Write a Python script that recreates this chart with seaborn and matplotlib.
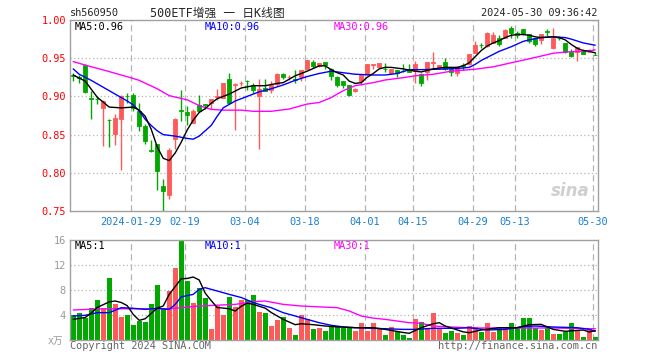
import numpy as np
import pandas as pd
import matplotlib
matplotlib.use("Agg")
import matplotlib.pyplot as plt
import seaborn as sns

# ---------------- data ----------------
opens = [0.928, 0.925, 0.941, 0.898, 0.897, 0.885, 0.8695, 0.8505, 0.871, 0.901,
         0.9015, 0.881, 0.8615, 0.8295, 0.8375, 0.783, 0.771, 0.844, 0.882, 0.8797,
         0.8658, 0.8885, 0.8895, 0.891, 0.8995, 0.8985, 0.9225, 0.9155, 0.917, 0.9205,
         0.9147, 0.900, 0.911, 0.909, 0.916, 0.929, 0.925, 0.9225, 0.925, 0.9365,
         0.945, 0.940, 0.9455, 0.9355, 0.9255, 0.920, 0.9147, 0.9065, 0.9205, 0.9295,
         0.9415, 0.9385, 0.9365, 0.931, 0.934, 0.9335, 0.935, 0.9335, 0.929, 0.9325,
         0.944, 0.9385, 0.9455, 0.9355, 0.931, 0.9405, 0.942, 0.957, 0.9675, 0.966,
         0.9705, 0.976, 0.977, 0.990, 0.9835, 0.988, 0.9815, 0.977, 0.974, 0.985,
         0.964, 0.977, 0.9695, 0.9575, 0.958, 0.9595, 0.958, 0.9545]
highs = [0.931, 0.928, 0.942, 0.907, 0.900, 0.895, 0.870, 0.877, 0.9015, 0.905,
         0.905, 0.891, 0.8635, 0.843, 0.8375, 0.7915, 0.832, 0.872, 0.908, 0.8876,
         0.883, 0.9016, 0.890, 0.897, 0.910, 0.917, 0.930, 0.917, 0.920, 0.9215,
         0.918, 0.9225, 0.923, 0.920, 0.931, 0.931, 0.9275, 0.935, 0.934, 0.947,
         0.947, 0.9435, 0.9455, 0.9375, 0.9265, 0.920, 0.9147, 0.911, 0.928, 0.942,
         0.942, 0.944, 0.944, 0.9365, 0.934, 0.943, 0.943, 0.946, 0.931, 0.9445,
         0.9575, 0.941, 0.950, 0.9385, 0.9397, 0.944, 0.955, 0.972, 0.9705, 0.9845,
         0.9845, 0.981, 0.988, 0.9915, 0.9855, 0.988, 0.9815, 0.977, 0.9815, 0.988,
         0.9895, 0.979, 0.9695, 0.9615, 0.965, 0.962, 0.9625, 0.958]
lows = [0.920, 0.918, 0.904, 0.871, 0.890, 0.835, 0.834, 0.837, 0.804, 0.892,
        0.881, 0.855, 0.838, 0.827, 0.7775, 0.749, 0.766, 0.831, 0.868, 0.862,
        0.865, 0.8795, 0.883, 0.883, 0.895, 0.8975, 0.8895, 0.856, 0.914, 0.909,
        0.905, 0.8315, 0.907, 0.905, 0.914, 0.923, 0.921, 0.918, 0.920, 0.9345,
        0.9375, 0.938, 0.9355, 0.922, 0.9125, 0.911, 0.900, 0.906, 0.915, 0.928,
        0.936, 0.937, 0.932, 0.929, 0.925, 0.932, 0.932, 0.918, 0.914, 0.922,
        0.9365, 0.937, 0.9345, 0.9265, 0.927, 0.934, 0.9405, 0.9565, 0.9635, 0.965,
        0.9695, 0.9665, 0.976, 0.9765, 0.9765, 0.9805, 0.970, 0.966, 0.9685, 0.979,
        0.9625, 0.974, 0.957, 0.9515, 0.9465, 0.955, 0.9575, 0.954]
closes = [0.927, 0.924, 0.906, 0.897, 0.896, 0.894, 0.869, 0.8715, 0.9005, 0.900,
          0.8845, 0.8615, 0.842, 0.829, 0.8025, 0.776, 0.830, 0.871, 0.881, 0.8754,
          0.881, 0.881, 0.889, 0.897, 0.900, 0.917, 0.892, 0.9165, 0.918, 0.920,
          0.909, 0.910, 0.907, 0.9147, 0.929, 0.926, 0.9255, 0.922, 0.934, 0.947,
          0.940, 0.9435, 0.941, 0.927, 0.915, 0.9147, 0.9015, 0.910, 0.928, 0.942,
          0.942, 0.944, 0.936, 0.9365, 0.930, 0.933, 0.9315, 0.942, 0.918, 0.9445,
          0.9445, 0.941, 0.9355, 0.932, 0.9387, 0.940, 0.955, 0.967, 0.967, 0.9825,
          0.981, 0.968, 0.9865, 0.9825, 0.980, 0.9815, 0.9725, 0.9685, 0.9815, 0.9845,
          0.977, 0.9765, 0.9575, 0.953, 0.965, 0.956, 0.9585, 0.954]
volumes = [3.95, 4.37, 3.57, 5.07, 6.35, 5.0, 10.0, 5.7, 3.68, 3.95,
           2.35, 3.0, 2.83, 5.7, 8.75, 5.17, 7.8, 11.47, 15.8, 9.39,
           5.87, 8.27, 6.67, 1.7, 5.44, 3.95, 6.83, 5.33, 6.35, 6.35,
           7.15, 4.43, 4.27, 2.19, 3.15, 3.68, 1.92, 0.75, 4.0, 3.41,
           1.7, 1.87, 1.39, 2.13, 2.13, 1.92, 1.92, 1.39, 2.67, 1.39,
           2.67, 1.92, 0.75, 2.03, 1.23, 0.75, 0.27, 3.31, 2.83, 1.81,
           4.27, 1.97, 1.07, 1.39, 1.07, 0.75, 2.19, 2.03, 1.23, 2.67,
           1.23, 2.03, 2.03, 2.67, 1.87, 3.47, 3.47, 1.87, 1.55, 2.24,
           0.91, 0.91, 1.23, 2.67, 1.39, 0.43, 1.87, 0.43]

# price moving averages (sampled along the lines)
ma5_idx = [0, 2, 4, 6, 8, 10, 11, 12, 13, 14, 15, 16, 17, 18, 19, 20, 21, 22, 23, 24,
           26, 28, 30, 32, 34, 35, 37, 39, 41, 42, 43, 44, 45, 46, 47, 48, 49, 50, 51, 52,
           53, 55, 57, 58, 60, 62, 64, 65, 66, 67, 68, 69, 70, 71, 72, 73, 74, 75, 76, 77,
           78, 80, 81, 82, 83, 84, 85, 86, 87]
ma5_val = [0.928, 0.920, 0.899, 0.886, 0.885, 0.886, 0.882, 0.874, 0.857, 0.834, 0.819,
           0.816, 0.826, 0.840, 0.856, 0.869, 0.879, 0.884, 0.891, 0.897, 0.903, 0.911,
           0.914, 0.914, 0.917, 0.918, 0.927, 0.933, 0.940, 0.940, 0.935, 0.931, 0.928,
           0.920, 0.917, 0.918, 0.925, 0.930, 0.936, 0.938, 0.938, 0.936, 0.933, 0.932,
           0.936, 0.938, 0.938, 0.940, 0.944, 0.952, 0.960, 0.966, 0.970, 0.973, 0.977,
           0.980, 0.981, 0.981, 0.980, 0.978, 0.977, 0.978, 0.977, 0.974, 0.968, 0.963,
           0.960, 0.959, 0.957]
ma10_idx = [0, 1, 3, 5, 7, 9, 10, 11, 12, 13, 14, 15, 17, 19, 20, 21, 22, 23, 24, 25,
            27, 29, 31, 33, 35, 37, 39, 41, 43, 45, 47, 50, 52, 54, 56, 58, 61, 64, 66, 67,
            68, 69, 70, 71, 73, 75, 76, 78, 80, 82, 83, 85, 87]
ma10_val = [0.936, 0.929, 0.921, 0.912, 0.903, 0.894, 0.889, 0.881, 0.870, 0.862, 0.855,
            0.850, 0.848, 0.845, 0.844, 0.848, 0.855, 0.862, 0.874, 0.885, 0.894, 0.900,
            0.906, 0.910, 0.915, 0.921, 0.926, 0.930, 0.933, 0.931, 0.929, 0.928, 0.928,
            0.930, 0.935, 0.935, 0.9356, 0.9365, 0.938, 0.942, 0.947, 0.951, 0.955, 0.959,
            0.965, 0.972, 0.974, 0.977, 0.978, 0.977, 0.975, 0.970, 0.967]
ma30_idx = [0, 2, 6, 10, 11, 14, 16, 19, 21, 23, 25, 28, 30, 33, 36, 39, 41, 43, 45, 47,
            50, 52, 55, 57, 60, 63, 67, 70, 73, 77, 80, 82, 86, 87]
ma30_val = [0.9456, 0.941, 0.9325, 0.9235, 0.921, 0.910, 0.901, 0.8955, 0.888, 0.883,
            0.882, 0.882, 0.8805, 0.8805, 0.8835, 0.890, 0.892, 0.8985, 0.9075, 0.914,
            0.918, 0.9215, 0.9245, 0.927, 0.929, 0.933, 0.9356, 0.9387, 0.944, 0.951,
            0.9565, 0.958, 0.9596, 0.961]

# volume moving averages (sampled along the lines)
vma5_idx = [0, 2, 3, 4, 6, 7, 8, 9, 10, 11, 12, 14, 15, 16, 18, 19, 20, 21, 22, 23,
            24, 26, 27, 28, 29, 30, 32, 33, 35, 37, 38, 40, 42, 44, 47, 50, 52, 55, 56,
            58, 60, 61, 62, 65, 66, 68, 71, 74, 76, 78, 80, 82, 85, 86, 87]
vma5_val = [3.3, 3.6, 4.3, 5.2, 6.1, 6.24, 6.0, 5.5, 4.1, 3.15, 3.4, 5.1, 5.44, 7.3,
            9.8, 9.85, 10.08, 9.6, 7.5, 6.3, 5.2, 5.0, 4.64, 5.4, 5.9, 5.7, 5.1, 4.4,
            3.3, 2.45, 2.6, 2.45, 2.24, 2.1, 1.97, 1.97, 1.7, 1.2, 1.07, 1.97, 2.6,
            2.77, 2.24, 1.3, 1.17, 1.6, 1.97, 1.97, 2.45, 2.5, 1.7, 1.39, 1.6, 1.28, 1.5]
vma10_idx = [0, 2, 4, 6, 8, 10, 12, 14, 16, 17, 18, 20, 21, 22, 24, 26, 28, 30, 31, 33,
             35, 37, 39, 41, 43, 45, 47, 50, 55, 57, 60, 64, 66, 69, 72, 75, 77, 80, 84,
             86, 87]
vma10_val = [3.84, 3.95, 4.37, 4.37, 5.17, 5.07, 4.9, 5.07, 4.9, 5.7, 6.9, 7.3, 8.1,
             8.37, 7.84, 7.3, 6.8, 6.0, 5.7, 5.17, 4.37, 3.84, 3.3, 2.77, 2.35, 2.1,
             1.97, 1.87, 1.7, 1.7, 1.87, 1.87, 1.97, 1.6, 1.7, 2.13, 2.24, 2.08, 1.97,
             1.7, 1.39]
vma30_idx = [0, 5, 10, 16, 18, 21, 27, 30, 32, 35, 38, 41, 44, 46, 48, 50, 52, 56, 58,
             60, 63, 67, 75, 80, 86, 87]
vma30_val = [4.8, 5.0, 5.0, 5.0, 5.17, 5.44, 5.7, 6.13, 6.24, 5.7, 5.44, 5.3, 5.17,
             4.64, 3.84, 3.5, 3.3, 2.77, 2.67, 2.24, 2.08, 1.92, 1.92, 1.92, 1.81, 1.81]

tick_idx = [10, 19, 29, 39, 49, 57, 67, 74, 87]
tick_labels = ["2024-01-29", "02-19", "03-04", "03-18", "04-01", "04-15",
               "04-29", "05-13", "05-30"]
price_ticks = [0.75, 0.80, 0.85, 0.90, 0.95, 1.00]
vol_ticks = [4, 8, 12, 16]

# ---------------- styling ----------------
sns.set_style("white")
plt.rcParams["font.family"] = ["DejaVu Sans Mono", "Noto Sans CJK SC"]

RED = "#ff5a5a"
GREEN = "#00a800"
FRAME = "#a0a0a0"
GRID = "#b4b4b4"
W, H = 660, 360

df = pd.DataFrame({"i": np.arange(len(closes)), "open": opens, "high": highs,
                   "low": lows, "close": closes, "vol": volumes})
df["color"] = np.where(df["close"] > df["open"], RED, GREEN)

fig = plt.figure(figsize=(W / 100, H / 100), dpi=100)
fig.patch.set_facecolor("white")


def fx(x):
    return x / W


def fy(y):
    return 1 - y / H


ax = fig.add_axes([fx(70), fy(211), (597.5 - 70) / W, 191 / H])
axv = fig.add_axes([fx(70), fy(340), (597.5 - 70) / W, 100 / H])

xl = (-0.533, 87.38)
grid_x = [t - 0.45 for t in tick_idx]

for a in (ax, axv):
    a.set_xlim(*xl)
    for s in a.spines.values():
        s.set_color(FRAME)
        s.set_linewidth(1.0)
    a.tick_params(length=0)
    for gx in grid_x:
        a.axvline(gx, color=GRID, lw=0.9, ls=(0, (5, 3)), zorder=0)

# ---- main candlestick panel ----
ax.set_ylim(0.75, 1.00)
for p in price_ticks[1:-1]:
    ax.axhline(p, color=GRID, lw=0.9, ls=(0, (1, 2)), zorder=0)

ax.vlines(df["i"], df["low"], df["high"], colors=df["color"], lw=1.0, zorder=2)
body_h = (df["close"] - df["open"]).abs()
body_b = df[["open", "close"]].min(axis=1)
ax.bar(df["i"], body_h, bottom=body_b, width=0.72, color=df["color"],
       edgecolor=df["color"], lw=0.6, zorder=2)

sns.lineplot(x=ma30_idx, y=ma30_val, ax=ax, color="#ff00ff", lw=1.0, zorder=3)
sns.lineplot(x=ma10_idx, y=ma10_val, ax=ax, color="#0000ff", lw=1.0, zorder=3)
sns.lineplot(x=ma5_idx, y=ma5_val, ax=ax, color="black", lw=1.0, zorder=4)

ax.set_yticks(price_ticks)
ax.set_yticklabels([f"{p:.2f}" for p in price_ticks], color="#ff0000", fontsize=7.4)
ax.tick_params(axis="y", pad=3)
ax.set_xticks(grid_x)
ax.set_xticklabels(tick_labels, color="#1a7fd0", fontsize=7.4)
ax.tick_params(axis="x", pad=4)
ax.set_xlabel("")
ax.set_ylabel("")

# watermark
ax.text(0.985, 0.06, "sina", transform=ax.transAxes, ha="right", va="bottom",
        fontsize=12, fontstyle="italic", fontweight="bold", color="#cfcfcf",
        family="DejaVu Sans", zorder=1)

# ---- volume panel ----
axv.set_ylim(0, 16)
for v in vol_ticks[:-1]:
    axv.axhline(v, color=GRID, lw=0.9, ls=(0, (1, 2)), zorder=0)
axv.bar(df["i"], df["vol"], width=0.83, color=df["color"], lw=0, zorder=2)
sns.lineplot(x=vma30_idx, y=vma30_val, ax=axv, color="#ff00ff", lw=1.0, zorder=3)
sns.lineplot(x=vma10_idx, y=vma10_val, ax=axv, color="#0000ff", lw=1.0, zorder=3)
sns.lineplot(x=vma5_idx, y=vma5_val, ax=axv, color="black", lw=1.0, zorder=4)
axv.set_yticks(vol_ticks)
axv.set_yticklabels([str(v) for v in vol_ticks], color="#999999", fontsize=7.4)
axv.tick_params(axis="y", pad=3)
axv.set_xticks([])
axv.set_xlabel("")
axv.set_ylabel("")

# ---- texts ----
fs = 7.4
fig.text(fx(70), fy(13), "sh560950", fontsize=fs, va="center", ha="left")
fig.text(fx(150), fy(13), "500ETF增强 一 日K线图", fontsize=8.5, va="center", ha="left")
fig.text(fx(597), fy(13), "2024-05-30 09:36:42", fontsize=fs, va="center", ha="right")

fig.text(fx(75), fy(26.5), "MA5:0.96", fontsize=fs, va="center", color="black")
fig.text(fx(205), fy(26.5), "MA10:0.96", fontsize=fs, va="center", color="#0000ff")
fig.text(fx(334), fy(26.5), "MA30:0.96", fontsize=fs, va="center", color="#ff00ff")

fig.text(fx(75), fy(246), "MA5:1", fontsize=fs, va="center", color="black")
fig.text(fx(205), fy(246), "MA10:1", fontsize=fs, va="center", color="#0000ff")
fig.text(fx(334), fy(246), "MA30:1", fontsize=fs, va="center", color="#ff00ff")

fig.text(fx(63), fy(341), "x万", fontsize=7, va="center", ha="right", color="#999999")
fig.text(fx(70), fy(346), "Copyright 2024 SINA.COM", fontsize=fs, va="center",
         ha="left", color="#666666")
fig.text(fx(597), fy(346), "http://finance.sina.com.cn", fontsize=fs, va="center",
         ha="right", color="#666666")

fig.savefig("out.png", dpi=100, facecolor="white")
